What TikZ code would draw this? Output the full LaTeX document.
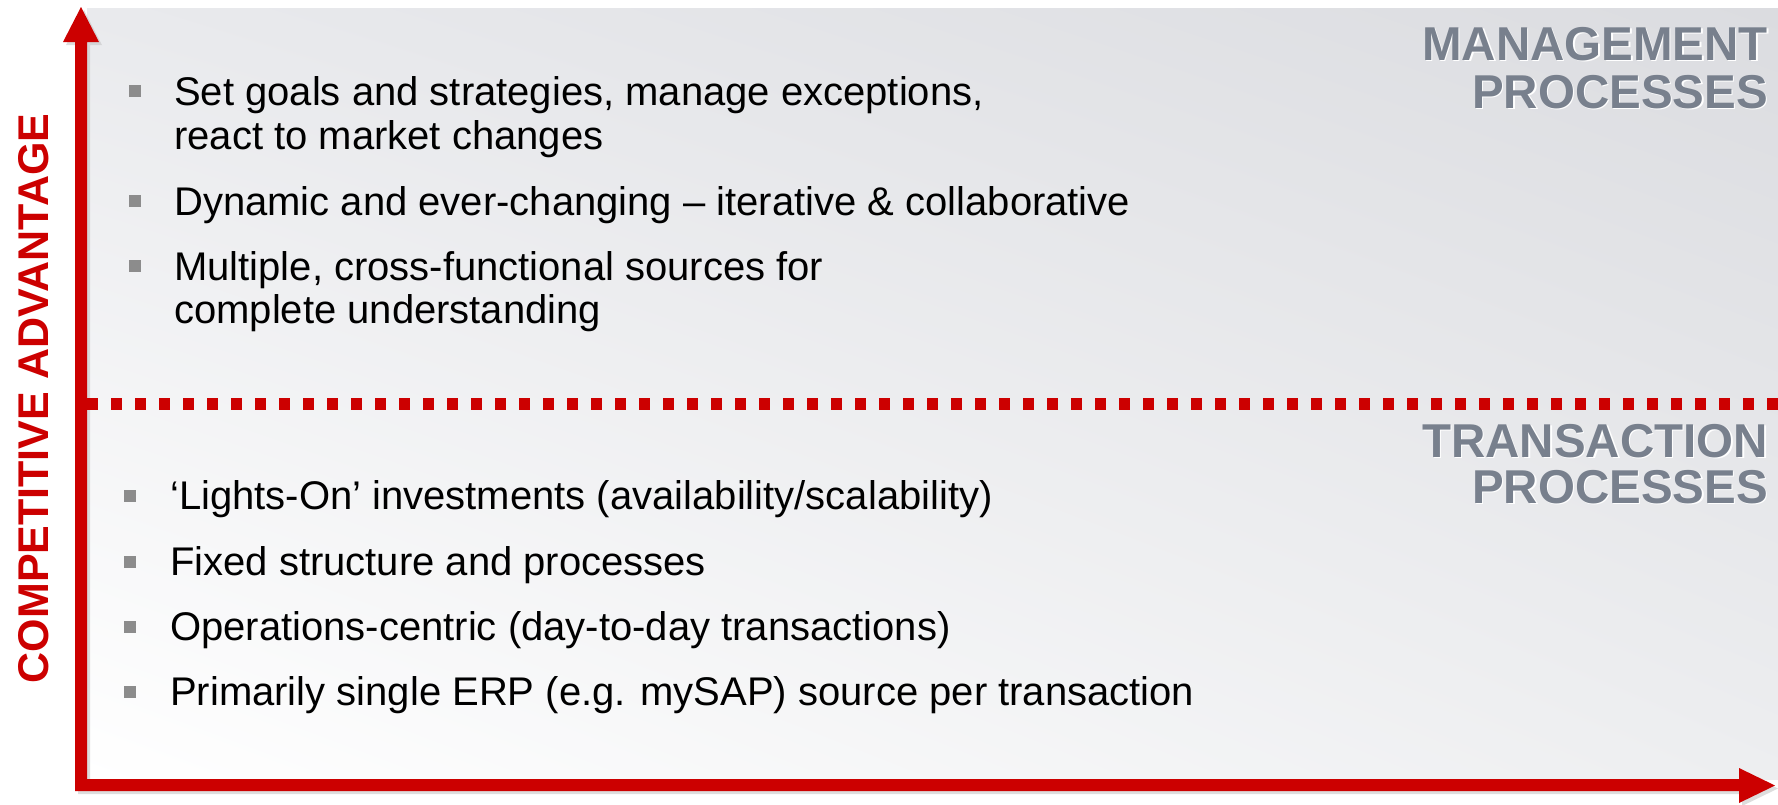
\documentclass[tikz,border=0pt]{standalone}
\usepackage{fontspec}
\setmainfont{Liberation Sans}
\usetikzlibrary{shadings}
\definecolor{axisred}{HTML}{CC0000}
\definecolor{headgray}{HTML}{78808D}
\definecolor{bulletgray}{HTML}{8C8C8C}
\definecolor{panelUL}{HTML}{E9EAED}
\definecolor{panelUR}{HTML}{DBDCE0}
\definecolor{panelLL}{HTML}{FFFFFF}
\definecolor{panelLR}{HTML}{EDEEF0}
\begin{document}
\begin{tikzpicture}[x=1pt,y=-1pt,
  body/.style={anchor=base west, inner sep=0pt, font=\fontsize{40}{44}\selectfont, text=black},
  bul/.style={fill=bulletgray, minimum size=12pt, inner sep=0pt, draw=none},
  head/.style={anchor=base east, inner sep=0pt, font=\fontsize{47.5}{48}\selectfont\bfseries, text=headgray},
  headsh/.style={head, text=white},
  axisshape/.style={fill=axisred, draw=none},
  axisshadow/.style={fill=gray!45, opacity=0.6, draw=none},
]
\useasboundingbox (0,0) rectangle (1778,804);

% background panel
\shade[upper left=panelUL, upper right=panelUR, lower left=panelLL, lower right=panelLR]
  (87,8) rectangle (1778,779);

% axes shadow
\begin{scope}[shift={(3,3)}]
\fill[axisshadow] (75,42) -- (63,42) -- (81,7) -- (99,42) -- (87,42) -- (87,779)
  -- (1739,779) -- (1739,768) -- (1775,785.5) -- (1739,803) -- (1739,791) -- (75,791) -- cycle;
\end{scope}
% axes
\fill[axisshape] (75,42) -- (63,42) -- (81,7) -- (99,42) -- (87,42) -- (87,779)
  -- (1739,779) -- (1739,768) -- (1775,785.5) -- (1739,803) -- (1739,791) -- (75,791) -- cycle;

% dashed separator
\coordinate (dashL) at (87,404);
\coordinate (dashR) at (1778,404);
\draw[axisred, line width=12pt, dash pattern=on 11pt off 13pt] (dashL) -- (dashR);

% axis label
\node[rotate=90, inner sep=0pt, font=\fontsize{43}{44}\selectfont\bfseries, text=axisred]
  (ylab) at (33.5,398.5) {COMPETITIVE ADVANTAGE};

% headings
\node[headsh] (mgsh1) at (1769.5,61.5) {MANAGEMENT};
\node[headsh] (mgsh2) at (1769.5,109.5) {PROCESSES};
\node[head] (mg1) at (1768,60) {MANAGEMENT};
\node[head] (mg2) at (1768,108) {PROCESSES};
\node[headsh] (trsh1) at (1769.5,458.5) {TRANSACTION};
\node[headsh] (trsh2) at (1769.5,504.5) {PROCESSES};
\node[head] (tr1) at (1768,457) {TRANSACTION};
\node[head] (tr2) at (1768,503) {PROCESSES};

% management bullets
\node[bul] (bm1) at (134.5,91) {};
\node[bul] (bm2) at (134.5,201) {};
\node[bul] (bm3) at (134.5,266) {};
\node[body] (m1a) at (174,105) {Set goals and strategies, manage exceptions,};
\node[body] (m1b) at (174,149) {react to market changes};
\node[body] (m2) at (174,215) {Dynamic and ever-changing -- iterative \& collaborative};
\node[body] (m3a) at (174,280) {Multiple, cross-functional sources for};
\node[body] (m3b) at (174,323) {complete understanding};

% transaction bullets
\node[bul] (bt1) at (130,496) {};
\node[bul] (bt2) at (130,562) {};
\node[bul] (bt3) at (130,627) {};
\node[bul] (bt4) at (130,692) {};
\node[body] (t1) at (170,509) {`Lights-On' investments (availability/scalability)};
\node[body] (t2) at (170,575) {Fixed structure and processes};
\node[body] (t3) at (170,640) {Operations-centric (day-to-day transactions)};
\node[body] (t4) at (170,705) {Primarily single ERP (e.g. mySAP) source per transaction};
\end{tikzpicture}
\end{document}
